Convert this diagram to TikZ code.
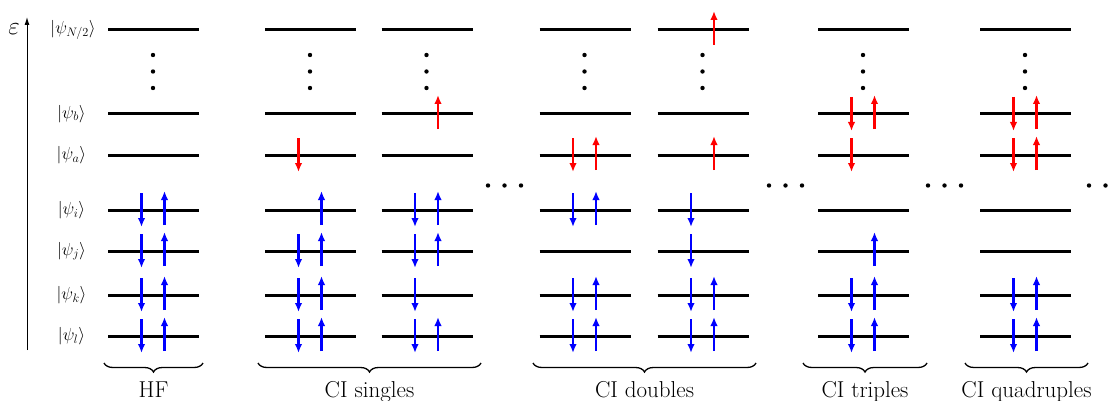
\RequirePackage{fix-cm}
\documentclass[tikz,border=0pt]{standalone}
\usetikzlibrary{arrows.meta,decorations.pathreplacing}

% energy levels (y, in pt, measured downward)
\def\yN{30}\def\yb{114}\def\ya{155}\def\yi{210}\def\yj{251}\def\yk{295}\def\yl{336}

% one column of orbital levels centred at #1
\newcommand\orbcolumn[1]{%
  \foreach \yy in {\yN,\yb,\ya,\yi,\yj,\yk,\yl}
    \draw[orbline] (#1-45.5,\yy) -- (#1+45.5,\yy);
  \foreach \yy in {55,71.5,88}
    \fill (#1-0.5,\yy) circle (2.2);
}
% spin-down / spin-up electrons on level #2 of column #1, colour #3
\newcommand\spindn[3]{\draw[spin,#3] (#1-12,#2-17) -- (#1-12,#2+17);}
\newcommand\spinup[3]{\draw[spin,#3] (#1+11,#2+15) -- (#1+11,#2-19);}
\newcommand\pairs[2]{\spindn{#1}{#2}{blue}\spinup{#1}{#2}{blue}}

\tikzset{
  orbline/.style={line width=3pt},
  spin/.style={line width=2.8pt,-{Latex[length=9pt,width=7.5pt]}},
  grpbrace/.style={line width=1.3pt,decorate,decoration={brace,mirror,amplitude=9pt}},
  grplabel/.style={anchor=base,font=\fontsize{23}{26}\selectfont,inner sep=0pt},
  ket/.style={font=\fontsize{17.5}{20}\selectfont,inner sep=0pt}
}

\begin{document}
\begin{tikzpicture}[x=1pt,y=-1pt]
\useasboundingbox (0,0) rectangle (1118,401);

% energy axis
\coordinate (ebot) at (27,350);
\coordinate (etop) at (27,17);
\draw[line width=1pt,-{Latex[length=8pt,width=5pt]}] (ebot) -- (etop);
\node[font=\fontsize{25}{28}\selectfont,inner sep=0pt] (eps) at (14,29) {$\varepsilon$};

% orbital labels
\node[ket] (kN) at (73,\yN) {$|\psi_{N/2}\rangle$};
\node[ket] (kb) at (71.5,\yb) {$|\psi_{b}\rangle$};
\node[ket] (ka) at (71.5,\ya) {$|\psi_{a}\rangle$};
\node[ket] (ki) at (71.5,\yi) {$|\psi_{i}\rangle$};
\node[ket] (kj) at (71.5,\yj) {$|\psi_{j}\rangle$};
\node[ket] (kk) at (71.5,\yk) {$|\psi_{k}\rangle$};
\node[ket] (kl) at (71.5,\yl) {$|\psi_{l}\rangle$};

% HF
\orbcolumn{153.5}
\pairs{153.5}{\yi}\pairs{153.5}{\yj}\pairs{153.5}{\yk}\pairs{153.5}{\yl}

% CI singles
\orbcolumn{310.5}
\spindn{310.5}{\ya}{red}
\spinup{310.5}{\yi}{blue}
\pairs{310.5}{\yj}\pairs{310.5}{\yk}\pairs{310.5}{\yl}

\orbcolumn{427}
\spinup{427}{\yb}{red}
\pairs{427}{\yi}\pairs{427}{\yj}
\spindn{427}{\yk}{blue}
\pairs{427}{\yl}

% CI doubles
\orbcolumn{585}
\spindn{585}{\ya}{red}\spinup{585}{\ya}{red}
\pairs{585}{\yi}
\pairs{585}{\yk}\pairs{585}{\yl}

\orbcolumn{703}
\spinup{703}{\yN}{red}
\spinup{703}{\ya}{red}
\spindn{703}{\yi}{blue}
\spindn{703}{\yj}{blue}
\pairs{703}{\yk}\pairs{703}{\yl}

% CI triples
\orbcolumn{863.5}
\spindn{863.5}{\yb}{red}\spinup{863.5}{\yb}{red}
\spindn{863.5}{\ya}{red}
\spinup{863.5}{\yj}{blue}
\pairs{863.5}{\yk}\pairs{863.5}{\yl}

% CI quadruples
\orbcolumn{1025.5}
\spindn{1025.5}{\yb}{red}\spinup{1025.5}{\yb}{red}
\spindn{1025.5}{\ya}{red}\spinup{1025.5}{\ya}{red}
\pairs{1025.5}{\yk}\pairs{1025.5}{\yl}

% ellipses between groups
\foreach \xx in {488,504.5,521, 769,785.5,802, 928,944.5,961, 1089,1105.5,1122}
  \fill (\xx,185.5) circle (2.2);

% group braces and labels
\coordinate (hfL) at (104,363);  \coordinate (hfR) at (203,363);
\coordinate (siL) at (258,363);  \coordinate (siR) at (481,363);
\coordinate (doL) at (533,363);  \coordinate (doR) at (756,363);
\coordinate (trL) at (803,363);  \coordinate (trR) at (927,363);
\coordinate (quL) at (965,363);  \coordinate (quR) at (1088,363);
\draw[grpbrace] (hfL) -- (hfR);
\draw[grpbrace] (siL) -- (siR);
\draw[grpbrace] (doL) -- (doR);
\draw[grpbrace] (trL) -- (trR);
\draw[grpbrace] (quL) -- (quR);
\node[grplabel] (lhf) at (153.5,397) {HF};
\node[grplabel] (lsi) at (369.5,397) {CI singles};
\node[grplabel] (ldo) at (644.5,397) {CI doubles};
\node[grplabel] (ltr) at (865,397) {CI triples};
\node[grplabel] (lqu) at (1026.5,397) {CI quadruples};
\end{tikzpicture}
\end{document}
